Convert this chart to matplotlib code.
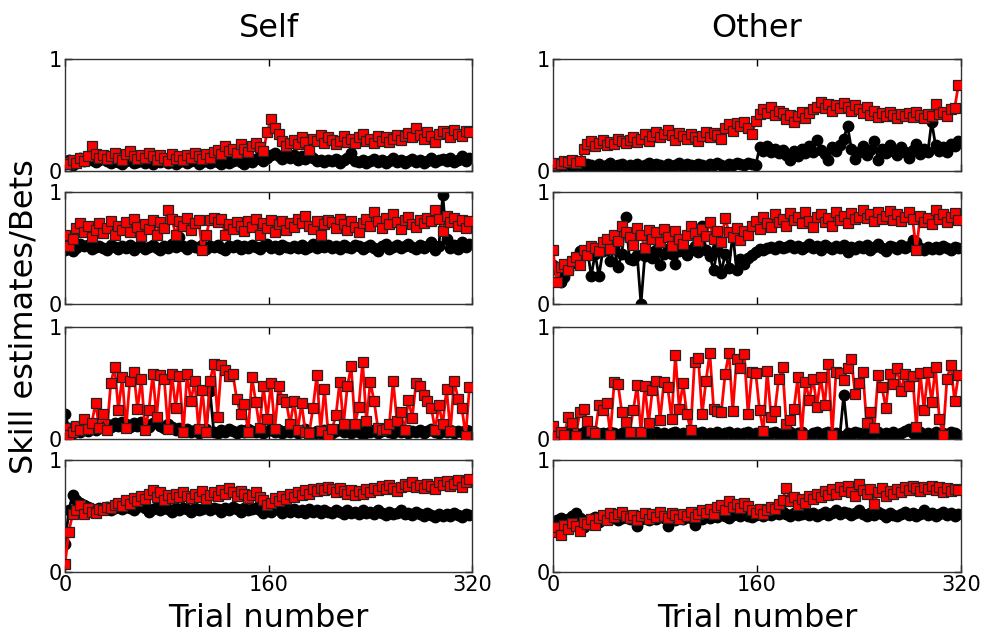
import numpy as np
import matplotlib
matplotlib.use("Agg")
import matplotlib.pyplot as plt

trials = np.arange(0, 320, 3)  # trial numbers of plotted points

col_titles = ["Self", "Other"]
x_ticks = [0, 160, 320]
y_ticks = [0, 1]

# ---------- Self, row 1 ----------
self1_red = [0.08,0.06,0.10,0.07,0.12,0.09,0.13,0.22,0.15,0.12,
             0.14,0.11,0.13,0.16,0.12,0.10,0.15,0.18,0.13,0.11,
             0.14,0.12,0.16,0.13,0.10,0.14,0.12,0.09,0.15,0.11,
             0.13,0.10,0.14,0.12,0.16,0.13,0.11,0.15,0.12,0.17,
             0.19,0.15,0.22,0.18,0.20,0.16,0.24,0.20,0.17,0.22,
             0.25,0.21,0.18,0.35,0.46,0.38,0.33,0.27,0.22,0.25,
             0.28,0.24,0.30,0.26,0.19,0.29,0.27,0.32,0.25,0.30,
             0.28,0.24,0.27,0.31,0.26,0.29,0.25,0.30,0.33,0.27,
             0.29,0.25,0.31,0.27,0.30,0.26,0.29,0.32,0.28,0.31,
             0.34,0.30,0.38,0.32,0.29,0.35,0.31,0.26,0.33,0.36,
             0.34,0.30,0.37,0.33,0.31,0.36,0.35]
self1_black = [0.07,0.10,0.05,0.08,0.12,0.09,0.11,0.10,0.08,0.10,
               0.12,0.09,0.07,0.10,0.08,0.06,0.09,0.11,0.07,0.08,
               0.10,0.07,0.09,0.06,0.10,0.08,0.11,0.07,0.09,0.06,
               0.08,0.10,0.07,0.09,0.11,0.06,0.08,0.10,0.07,0.09,
               0.08,0.06,0.10,0.07,0.09,0.11,0.08,0.06,0.10,0.08,
               0.11,0.13,0.09,0.12,0.14,0.16,0.13,0.11,0.15,0.12,
               0.14,0.10,0.13,0.11,0.16,0.12,0.09,0.10,0.08,0.10,
               0.09,0.11,0.07,0.10,0.12,0.16,0.09,0.08,0.10,0.07,
               0.09,0.11,0.08,0.10,0.07,0.09,0.12,0.08,0.10,0.07,
               0.09,0.11,0.08,0.10,0.07,0.09,0.12,0.08,0.10,0.11,
               0.09,0.12,0.08,0.10,0.13,0.09,0.12]

# ---------- Other, row 1 ----------
other1_red = [0.05,0.07,0.06,0.09,0.08,0.10,0.07,0.09,0.20,0.24,
              0.27,0.22,0.25,0.28,0.23,0.26,0.24,0.29,0.27,0.25,
              0.28,0.30,0.26,0.29,0.33,0.27,0.31,0.35,0.30,0.33,
              0.37,0.32,0.28,0.34,0.31,0.29,0.33,0.30,0.27,0.31,
              0.35,0.30,0.34,0.32,0.29,0.38,0.42,0.36,0.43,0.40,
              0.44,0.38,0.33,0.45,0.51,0.55,0.52,0.57,0.50,0.54,
              0.52,0.46,0.50,0.44,0.49,0.53,0.47,0.52,0.55,0.57,
              0.62,0.56,0.60,0.54,0.59,0.56,0.61,0.57,0.54,0.59,
              0.55,0.52,0.57,0.50,0.54,0.48,0.52,0.49,0.53,0.50,
              0.47,0.51,0.49,0.52,0.48,0.53,0.50,0.47,0.51,0.49,
              0.60,0.51,0.53,0.49,0.55,0.56,0.77]
other1_black = [0.04,0.06,0.03,0.05,0.07,0.04,0.06,0.05,0.03,0.06,
                0.05,0.04,0.06,0.03,0.05,0.07,0.04,0.05,0.06,0.04,
                0.05,0.03,0.06,0.04,0.05,0.07,0.04,0.06,0.05,0.03,
                0.06,0.04,0.05,0.07,0.04,0.06,0.05,0.04,0.06,0.05,
                0.04,0.06,0.05,0.07,0.05,0.04,0.06,0.05,0.07,0.06,
                0.05,0.07,0.06,0.05,0.21,0.18,0.22,0.17,0.20,0.16,
                0.19,0.14,0.10,0.18,0.13,0.20,0.16,0.22,0.17,0.28,
                0.19,0.15,0.10,0.21,0.18,0.23,0.29,0.40,0.20,0.11,
                0.17,0.22,0.14,0.19,0.27,0.10,0.20,0.16,0.23,0.18,
                0.14,0.21,0.17,0.12,0.19,0.24,0.15,0.20,0.17,0.44,
                0.23,0.18,0.21,0.17,0.24,0.22,0.27]

# ---------- Self, row 2 ----------
self2_red = [0.62,0.52,0.58,0.68,0.72,0.64,0.70,0.60,0.66,0.72,
             0.63,0.68,0.74,0.62,0.70,0.66,0.73,0.64,0.76,0.69,
             0.61,0.71,0.67,0.75,0.62,0.73,0.68,0.84,0.76,0.62,
             0.74,0.70,0.77,0.66,0.72,0.75,0.48,0.62,0.75,0.77,
             0.73,0.76,0.62,0.71,0.67,0.73,0.70,0.65,0.74,0.69,
             0.76,0.62,0.72,0.68,0.75,0.64,0.71,0.74,0.66,0.72,
             0.69,0.76,0.72,0.79,0.70,0.67,0.74,0.62,0.71,0.75,
             0.73,0.68,0.76,0.71,0.66,0.74,0.69,0.64,0.72,0.76,
             0.70,0.82,0.74,0.68,0.77,0.71,0.80,0.73,0.67,0.75,
             0.78,0.71,0.69,0.75,0.72,0.77,0.74,0.84,0.76,0.65,
             0.79,0.73,0.77,0.70,0.75,0.68,0.74]
self2_black = [0.48,0.51,0.47,0.50,0.54,0.52,0.53,0.49,0.51,0.52,
               0.50,0.48,0.53,0.51,0.49,0.52,0.50,0.53,0.48,0.51,
               0.52,0.49,0.51,0.53,0.50,0.48,0.52,0.50,0.54,0.51,
               0.60,0.52,0.49,0.53,0.51,0.50,0.53,0.49,0.52,0.51,
               0.53,0.50,0.48,0.52,0.51,0.53,0.49,0.52,0.50,0.53,
               0.51,0.49,0.52,0.54,0.50,0.52,0.49,0.53,0.51,0.50,
               0.52,0.50,0.53,0.49,0.51,0.54,0.50,0.52,0.51,0.53,
               0.50,0.52,0.49,0.53,0.51,0.50,0.53,0.52,0.49,0.51,
               0.53,0.50,0.47,0.52,0.54,0.49,0.51,0.53,0.50,0.52,
               0.54,0.51,0.49,0.53,0.50,0.52,0.55,0.48,0.52,0.97,
               0.58,0.50,0.53,0.49,0.55,0.51,0.54]

# ---------- Other, row 2 ----------
other2_red = [0.48,0.20,0.33,0.36,0.30,0.38,0.42,0.35,0.48,0.44,
              0.52,0.50,0.47,0.55,0.58,0.49,0.62,0.56,0.70,0.64,
              0.60,0.53,0.68,0.62,0.50,0.66,0.58,0.64,0.55,0.67,
              0.60,0.52,0.65,0.58,0.54,0.62,0.70,0.63,0.56,0.67,
              0.61,0.73,0.58,0.65,0.55,0.77,0.64,0.60,0.68,0.57,
              0.65,0.62,0.70,0.74,0.67,0.78,0.72,0.69,0.80,0.73,
              0.76,0.70,0.81,0.75,0.78,0.72,0.82,0.74,0.69,0.78,
              0.80,0.73,0.77,0.70,0.82,0.75,0.79,0.72,0.81,0.76,
              0.78,0.84,0.77,0.80,0.74,0.82,0.76,0.79,0.83,0.75,
              0.80,0.74,0.78,0.82,0.76,0.48,0.79,0.73,0.77,0.71,
              0.84,0.76,0.80,0.73,0.78,0.81,0.75]
other2_black = [0.35,0.30,0.20,0.24,0.30,0.37,0.42,0.47,0.44,0.48,
                0.25,0.45,0.25,0.47,0.50,0.38,0.50,0.33,0.45,0.78,
                0.40,0.39,0.44,0.00,0.43,0.46,0.41,0.48,0.35,0.45,
                0.49,0.45,0.36,0.47,0.50,0.44,0.48,0.52,0.46,0.70,
                0.48,0.43,0.30,0.50,0.28,0.45,0.32,0.63,0.30,0.40,
                0.36,0.41,0.44,0.46,0.49,0.48,0.50,0.51,0.49,0.52,
                0.50,0.51,0.53,0.50,0.52,0.49,0.51,0.54,0.50,0.52,
                0.48,0.53,0.51,0.49,0.52,0.50,0.53,0.46,0.51,0.49,
                0.52,0.50,0.53,0.48,0.51,0.54,0.50,0.47,0.52,0.51,
                0.49,0.53,0.50,0.52,0.57,0.55,0.50,0.48,0.51,0.49,
                0.51,0.49,0.52,0.50,0.48,0.51,0.50]

# ---------- Self, row 3 ----------
self3_red = [0.10,0.04,0.06,0.12,0.08,0.18,0.09,0.14,0.32,0.10,
             0.22,0.08,0.50,0.64,0.26,0.55,0.10,0.52,0.60,0.27,
             0.54,0.08,0.26,0.58,0.20,0.57,0.54,0.09,0.58,0.28,
             0.56,0.06,0.58,0.34,0.52,0.09,0.44,0.06,0.52,0.67,
             0.20,0.66,0.62,0.56,0.58,0.36,0.22,0.31,0.06,0.55,
             0.33,0.10,0.47,0.18,0.50,0.09,0.47,0.36,0.33,0.13,
             0.34,0.08,0.32,0.06,0.05,0.28,0.57,0.07,0.45,0.04,
             0.09,0.21,0.51,0.13,0.47,0.65,0.13,0.29,0.69,0.16,
             0.51,0.34,0.10,0.08,0.09,0.13,0.52,0.16,0.24,0.08,
             0.35,0.19,0.50,0.47,0.39,0.34,0.28,0.08,0.30,0.13,
             0.45,0.07,0.52,0.36,0.28,0.03,0.46]
self3_black = [0.22,0.10,0.05,0.08,0.06,0.09,0.07,0.10,0.08,0.12,
               0.10,0.13,0.11,0.14,0.12,0.15,0.13,0.11,0.14,0.12,
               0.15,0.13,0.11,0.14,0.16,0.12,0.10,0.13,0.11,0.08,
               0.10,0.07,0.09,0.06,0.08,0.05,0.07,0.09,0.43,0.06,
               0.05,0.08,0.06,0.09,0.07,0.05,0.08,0.06,0.09,0.07,
               0.06,0.08,0.05,0.07,0.09,0.06,0.08,0.05,0.07,0.06,
               0.08,0.05,0.07,0.09,0.06,0.04,0.07,0.05,0.08,0.06,
               0.05,0.07,0.09,0.06,0.08,0.05,0.07,0.06,0.04,0.07,
               0.06,0.08,0.05,0.07,0.09,0.06,0.05,0.08,0.06,0.07,
               0.05,0.07,0.06,0.08,0.05,0.07,0.09,0.06,0.05,0.07,
               0.06,0.08,0.05,0.07,0.06,0.08,0.07]

# ---------- Other, row 3 ----------
other3_red = [0.12,0.03,0.06,0.04,0.20,0.14,0.03,0.24,0.27,0.16,
              0.07,0.05,0.30,0.26,0.32,0.04,0.51,0.49,0.24,0.15,
              0.06,0.26,0.48,0.06,0.47,0.14,0.44,0.52,0.17,0.51,
              0.46,0.18,0.75,0.27,0.50,0.22,0.08,0.69,0.72,0.22,
              0.52,0.77,0.27,0.25,0.24,0.58,0.77,0.25,0.71,0.63,
              0.76,0.22,0.60,0.59,0.26,0.07,0.61,0.20,0.25,0.54,
              0.64,0.13,0.17,0.27,0.55,0.04,0.51,0.35,0.54,0.29,
              0.55,0.30,0.67,0.04,0.60,0.59,0.53,0.63,0.71,0.40,
              0.50,0.60,0.14,0.24,0.10,0.57,0.46,0.28,0.58,0.49,
              0.63,0.43,0.58,0.47,0.56,0.11,0.59,0.26,0.60,0.33,
              0.64,0.18,0.04,0.54,0.66,0.34,0.57]
other3_black = [0.06,0.03,0.05,0.04,0.06,0.03,0.05,0.04,0.06,0.05,
                0.04,0.06,0.03,0.05,0.04,0.06,0.05,0.03,0.05,0.04,
                0.06,0.04,0.05,0.03,0.06,0.04,0.05,0.06,0.04,0.05,
                0.03,0.05,0.06,0.04,0.05,0.03,0.06,0.04,0.05,0.06,
                0.04,0.05,0.03,0.06,0.04,0.05,0.06,0.04,0.05,0.03,
                0.05,0.06,0.04,0.05,0.03,0.06,0.04,0.05,0.06,0.04,
                0.05,0.03,0.06,0.04,0.05,0.06,0.04,0.03,0.05,0.06,
                0.04,0.05,0.06,0.04,0.05,0.03,0.39,0.05,0.04,0.06,
                0.05,0.04,0.06,0.03,0.05,0.06,0.04,0.05,0.03,0.06,
                0.04,0.05,0.07,0.09,0.05,0.04,0.06,0.03,0.05,0.04,
                0.06,0.04,0.05,0.03,0.06,0.05,0.04]

# ---------- Self, row 4 ----------
self4_red = [0.07,0.36,0.52,0.55,0.60,0.52,0.57,0.54,0.53,0.56,
             0.55,0.58,0.57,0.60,0.62,0.59,0.64,0.61,0.66,0.63,
             0.68,0.65,0.70,0.73,0.67,0.71,0.64,0.69,0.66,0.70,
             0.67,0.71,0.68,0.66,0.70,0.67,0.72,0.65,0.69,0.71,
             0.68,0.73,0.70,0.75,0.71,0.68,0.72,0.70,0.66,0.69,
             0.71,0.67,0.64,0.60,0.62,0.66,0.63,0.68,0.65,0.70,
             0.67,0.71,0.69,0.73,0.70,0.74,0.72,0.75,0.73,0.76,
             0.74,0.71,0.75,0.72,0.70,0.73,0.69,0.72,0.70,0.74,
             0.71,0.75,0.73,0.77,0.74,0.78,0.75,0.72,0.76,0.79,
             0.77,0.80,0.76,0.78,0.75,0.79,0.77,0.74,0.80,0.78,
             0.81,0.77,0.79,0.82,0.76,0.80,0.83]
self4_black = [0.25,0.55,0.69,0.64,0.62,0.60,0.58,0.56,0.55,0.57,
               0.56,0.58,0.55,0.57,0.59,0.56,0.58,0.57,0.55,0.58,
               0.60,0.57,0.54,0.56,0.58,0.55,0.57,0.56,0.54,0.57,
               0.55,0.57,0.56,0.54,0.57,0.55,0.56,0.58,0.55,0.57,
               0.56,0.54,0.57,0.55,0.58,0.56,0.54,0.57,0.55,0.56,
               0.57,0.55,0.53,0.56,0.54,0.57,0.55,0.53,0.56,0.54,
               0.56,0.54,0.55,0.53,0.56,0.54,0.55,0.53,0.55,0.54,
               0.53,0.55,0.54,0.52,0.55,0.53,0.54,0.52,0.55,0.53,
               0.54,0.52,0.55,0.53,0.51,0.54,0.52,0.53,0.55,0.52,
               0.53,0.51,0.54,0.52,0.50,0.53,0.51,0.49,0.52,0.50,
               0.52,0.50,0.53,0.51,0.49,0.52,0.51]

# ---------- Other, row 4 ----------
other4_red = [0.36,0.40,0.33,0.42,0.38,0.44,0.41,0.37,0.45,0.43,
              0.47,0.42,0.48,0.51,0.46,0.53,0.49,0.52,0.54,0.50,
              0.48,0.51,0.46,0.50,0.53,0.47,0.52,0.49,0.54,0.50,
              0.48,0.53,0.51,0.47,0.52,0.50,0.54,0.49,0.52,0.55,
              0.53,0.56,0.52,0.58,0.60,0.55,0.63,0.58,0.61,0.57,
              0.62,0.59,0.55,0.53,0.56,0.52,0.55,0.58,0.56,0.61,
              0.64,0.75,0.63,0.67,0.60,0.65,0.62,0.68,0.65,0.70,
              0.67,0.72,0.69,0.74,0.70,0.76,0.72,0.77,0.71,0.68,
              0.79,0.73,0.70,0.74,0.61,0.71,0.75,0.68,0.72,0.70,
              0.74,0.71,0.76,0.73,0.77,0.75,0.72,0.76,0.74,0.77,
              0.73,0.76,0.71,0.75,0.72,0.74,0.73]
other4_black = [0.43,0.46,0.48,0.45,0.47,0.50,0.53,0.48,0.40,0.46,
                0.47,0.49,0.45,0.48,0.50,0.47,0.49,0.46,0.48,0.50,
                0.47,0.49,0.41,0.47,0.48,0.46,0.49,0.47,0.50,0.48,
                0.41,0.48,0.46,0.49,0.47,0.50,0.48,0.42,0.49,0.47,
                0.50,0.48,0.51,0.49,0.52,0.50,0.48,0.51,0.53,0.50,
                0.52,0.50,0.49,0.51,0.53,0.50,0.52,0.51,0.53,0.52,
                0.54,0.52,0.50,0.53,0.51,0.52,0.54,0.51,0.53,0.50,
                0.52,0.54,0.51,0.53,0.55,0.52,0.54,0.53,0.51,0.53,
                0.55,0.52,0.50,0.53,0.51,0.54,0.52,0.49,0.53,0.51,
                0.50,0.52,0.54,0.51,0.53,0.50,0.52,0.55,0.51,0.53,
                0.50,0.52,0.54,0.51,0.53,0.50,0.52]

panels = [
    [(self1_black, self1_red), (other1_black, other1_red)],
    [(self2_black, self2_red), (other2_black, other2_red)],
    [(self3_black, self3_red), (other3_black, other3_red)],
    [(self4_black, self4_red), (other4_black, other4_red)],
]

W, H = 984, 634
fig = plt.figure(figsize=(W / 100, H / 100), dpi=100)

col_left = [65, 553]
col_width = [407, 408]
row_top = [59, 192, 327, 460]
row_h = 112

for r in range(4):
    for c in range(2):
        ax = fig.add_axes([col_left[c] / W, 1 - (row_top[r] + row_h) / H,
                           col_width[c] / W, row_h / H])
        blk, red = panels[r][c]
        ax.plot(trials, blk, '-o', color='black', lw=2.0, ms=7.5,
                mec='black', mfc='black', zorder=2)
        ax.plot(trials, red, '-s', color='red', lw=2.0, ms=7,
                mec='#222222', mew=0.9, mfc='red', zorder=3)
        ax.set_xlim(0, 320)
        ax.set_ylim(0, 1)
        ax.set_xticks(x_ticks)
        ax.set_yticks(y_ticks)
        ax.tick_params(direction='in', length=5, width=1, top=True,
                       right=True, labelsize=15, pad=2)
        if r < 3:
            ax.set_xticklabels([])
        else:
            ax.set_xlabel("Trial number", fontsize=23, labelpad=6)
        if r == 0:
            ax.set_title(col_titles[c], fontsize=23, pad=16)
        for s in ax.spines.values():
            s.set_linewidth(1)
            s.set_color('#333333')

fig.text(24 / W, 0.5, "Skill estimates/Bets", rotation=90,
         fontsize=23, ha='center', va='center')

fig.savefig("out.png", dpi=100)
